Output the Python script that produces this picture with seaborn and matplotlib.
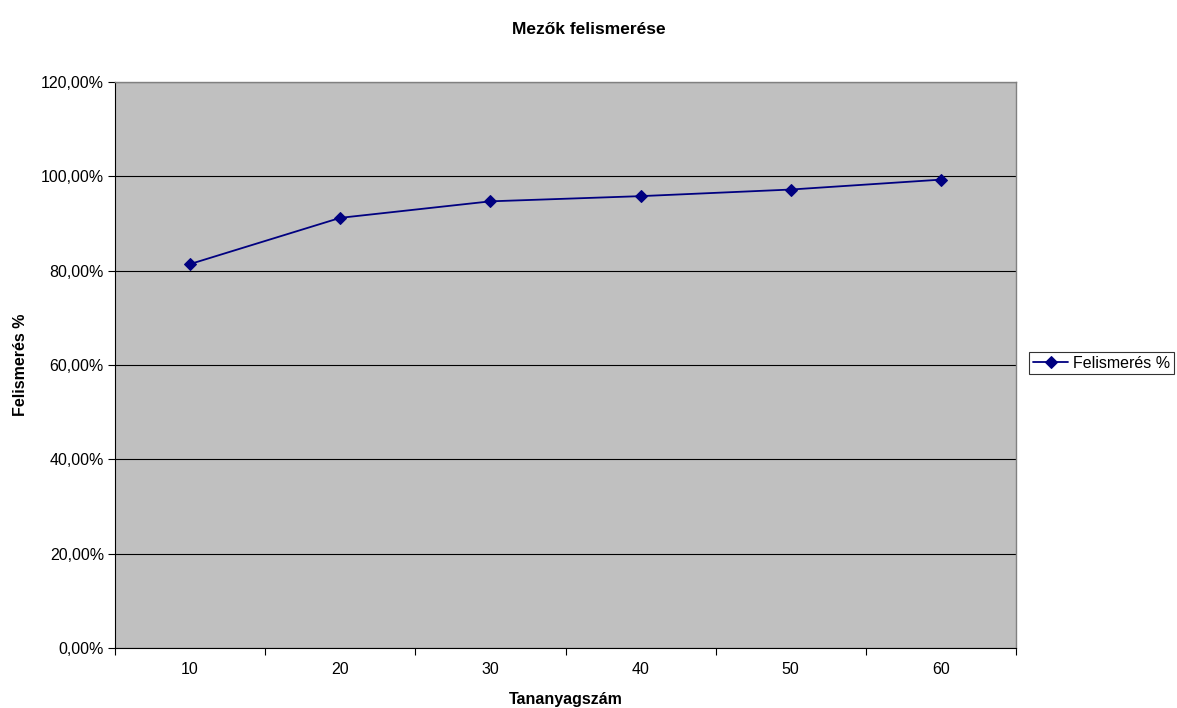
import pandas as pd
import matplotlib.pyplot as plt
import seaborn as sns
from matplotlib.ticker import FixedLocator, FuncFormatter

# Values
tananyag = ["10", "20", "30", "40", "50", "60"]
felismeres = [81.4, 91.2, 94.7, 95.8, 97.2, 99.3]

data = pd.DataFrame({"Tananyagszám": tananyag, "Felismerés %": felismeres})

sns.set_style("white")
plt.rcParams['font.family'] = ['Liberation Sans', 'DejaVu Sans']
plt.rcParams['text.color'] = 'black'
plt.rcParams['axes.labelcolor'] = 'black'
plt.rcParams['xtick.color'] = 'black'
plt.rcParams['ytick.color'] = 'black'

fig = plt.figure(figsize=(11.77, 7.08), dpi=100)
ax = fig.add_axes([115 / 1177, 60 / 708, 901 / 1177, 566 / 708])
ax.set_facecolor("#C0C0C0")

sns.lineplot(data=data, x="Tananyagszám", y="Felismerés %", ax=ax,
             color="#000080", marker="D", markersize=6, linewidth=1.3,
             markeredgecolor="#000080", label="Felismerés %", legend=False)

# Axes limits and ticks (Excel-like category axis)
ax.set_xlim(-0.5, 5.5)
ax.set_ylim(0, 120)
ax.set_yticks(range(0, 121, 20))
ax.yaxis.set_major_formatter(FuncFormatter(lambda v, p: f"{v:.2f}%".replace(".", ",")))
ax.set_xticks(range(len(tananyag)))
ax.set_xticklabels(tananyag)
ax.xaxis.set_minor_locator(FixedLocator([i - 0.5 for i in range(len(tananyag) + 1)]))
ax.tick_params(axis="x", which="major", length=0, pad=10, labelsize=11.5)
ax.tick_params(axis="x", which="minor", length=5, width=0.8, color="black", direction="out", bottom=True)
ax.tick_params(axis="y", length=5, width=0.8, color="black", direction="out", left=True, labelsize=11.5, pad=3)

ax.yaxis.grid(True, color="black", linewidth=0.8)
ax.set_axisbelow(True)
for side in ["left", "bottom"]:
    ax.spines[side].set_color("black")
    ax.spines[side].set_linewidth(0.8)
for side in ["top", "right"]:
    ax.spines[side].set_color("#808080")
    ax.spines[side].set_linewidth(1.0)

ax.set_xlabel("Tananyagszám", fontsize=11.5, fontweight="bold", labelpad=11)
ax.set_ylabel("Felismerés %", fontsize=11.5, fontweight="bold", labelpad=9)
fig.suptitle("Mezők felismerése", fontsize=12.5, fontweight="bold", y=1 - 29 / 708, va="center")

handles, labels = ax.get_legend_handles_labels()
leg = fig.legend(handles, labels, loc="center left", bbox_to_anchor=(1029 / 1177, 1 - 363 / 708),
                 frameon=True, fancybox=False, edgecolor="black", fontsize=11.5,
                 handlelength=2.2, handletextpad=0.3, borderpad=0.25, borderaxespad=0)
leg.get_frame().set_linewidth(0.8)

fig.savefig("out.png", dpi=100)
